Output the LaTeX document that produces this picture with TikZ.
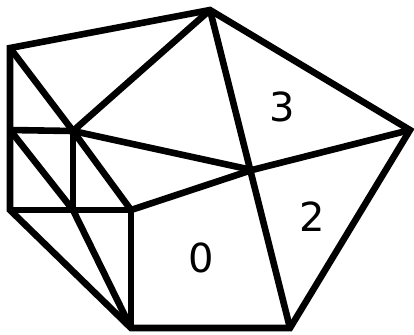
\documentclass[tikz,border=0pt]{standalone}
\usepackage{fontspec}
\setmainfont{DejaVu Sans}
\begin{document}
\begin{tikzpicture}[x=0.5pt, y=-0.5pt, line width=3.3pt, every path/.style={line join=miter}, face/.style={inner sep=0pt, font=\fontsize{20}{24}\selectfont}]
        \useasboundingbox (0,0) rectangle (414,334);

        % Outer vertices
        \coordinate (A) at (10,48);
        \coordinate (B) at (210,10);
        \coordinate (C) at (410,130);
        \coordinate (D) at (290,328);
        \coordinate (E) at (131,328);
        \coordinate (F) at (10,210);
        \coordinate (G) at (10,130);

        % Inner vertices
        \coordinate (H) at (73,131);
        \coordinate (I) at (73,210);
        \coordinate (J) at (131,210);
        \coordinate (K) at (252,170);

        % Outer boundary
        \draw (A) -- (B) -- (C) -- (D) -- (E) -- (F) -- (G) -- cycle;

        % Inner edges
        \foreach \u/\v in {A/H, H/J, B/H, H/K, G/H, G/I, I/E, H/I, F/J, J/E, J/K, K/C, B/D}
        {
          \draw (\u) -- (\v);
        }

        % Face labels
        \node[face] (f3) at (282,107) {3};
        \node[face] (f2) at (312,217) {2};
        \node[face] (f0) at (201,258) {0};
      \end{tikzpicture}
\end{document}
